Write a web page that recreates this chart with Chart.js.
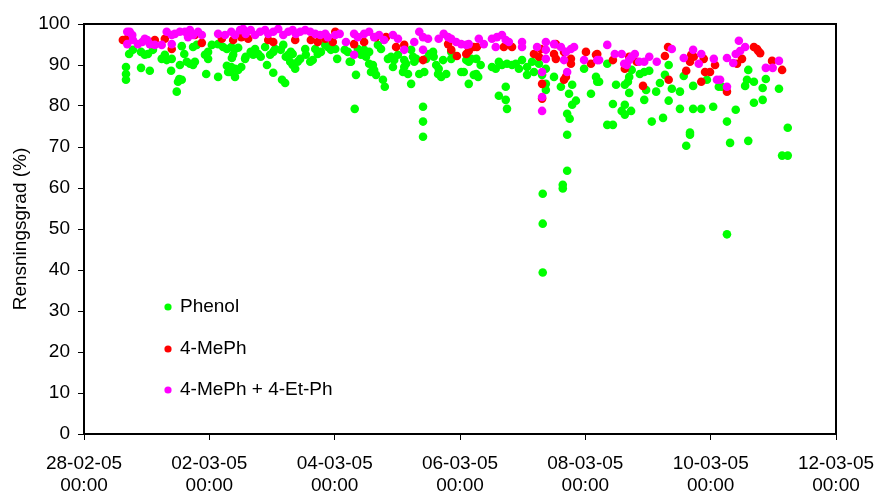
<!DOCTYPE html>
<html>
<head>
<meta charset="utf-8">
<script src="https://cdn.jsdelivr.net/npm/chart.js@4.4.0/dist/chart.umd.min.js"></script>
<style>
  body { margin: 0; background: #fff; }
  #wrap { width: 874px; height: 497px; }
</style>
</head>
<body>
<div id="wrap"><canvas id="chart" width="874" height="497"></canvas></div>
<script>
// x = days after 28-02-05 00:00, y = Rensningsgrad (%)
const tickDates = ["28-02-05", "02-03-05", "04-03-05", "06-03-05", "08-03-05", "10-03-05", "12-03-05"];
const tickTime = "00:00";
const seriesNames = ["Phenol", "4-MePh", "4-MePh + 4-Et-Ph"];
const seriesColors = ["#00ff00", "#ff0000", "#ff00ff"];

const phenol = [
  [0.67,89.5],[0.67,87.8],[0.67,86.4],[0.72,92.7],[0.78,93.7],[0.91,93.2],[0.97,92.5],[1.02,92.7],[0.91,89.3],[1.05,88.6],
  [1.10,93.7],[1.24,91.5],[1.29,92.5],[1.32,91.2],[1.40,91.5],[1.39,88.6],[1.53,90.0],[1.50,85.9],[1.56,86.4],[1.52,86.6],
  [1.48,83.5],[1.60,92.7],[1.56,94.6],[1.64,90.8],[1.69,90.3],[1.77,90.8],[1.74,90.0],[1.74,94.4],[1.80,94.9],[1.93,92.5],
  [1.98,93.2],[1.98,91.5],[1.95,87.8],[2.04,94.9],[2.14,87.1],[2.14,95.1],[2.22,94.4],[2.28,93.9],[2.28,89.8],[2.30,88.3],
  [2.35,94.4],[2.41,93.9],[2.46,94.2],[2.38,92.5],[2.36,91.7],[2.35,89.5],[2.33,88.3],[2.41,89.1],[2.46,88.8],[2.51,89.5],
  [2.41,87.1],[2.57,91.5],[2.58,92.0],[2.66,93.2],[2.73,93.9],[2.78,92.7],[2.70,92.5],[2.82,92.0],[2.89,94.4],[2.92,90.0],
  [2.97,92.5],[3.02,93.2],[3.05,93.9],[3.02,88.1],[3.14,93.7],[3.18,94.9],[3.22,92.0],[3.26,92.5],[3.30,93.2],[3.33,92.7],
  [3.16,86.4],[3.21,85.6],[3.29,90.8],[3.33,90.0],[3.37,89.1],[3.41,90.8],[3.45,91.5],[3.53,93.9],[3.54,92.5],[3.61,90.8],
  [3.65,91.2],[3.69,93.9],[3.73,92.7],[3.78,93.2],[3.85,94.9],[3.89,94.4],[3.94,93.7],[4.01,93.9],[4.04,91.5],[4.16,93.7],
  [4.21,93.2],[4.24,90.8],[4.26,90.8],[4.34,87.6],[4.32,79.3],[4.37,93.9],[4.42,92.5],[4.47,93.7],[4.55,93.2],[4.50,92.0],
  [4.55,90.3],[4.61,90.0],[4.58,88.3],[4.63,88.8],[4.66,87.6],[4.69,94.9],[4.74,93.9],[4.77,86.4],[4.80,84.7],[4.85,91.5],
  [4.90,92.0],[4.95,91.2],[5.01,92.5],[4.93,89.5],[5.09,88.3],[5.17,87.8],[5.11,91.2],[5.14,90.3],[5.11,89.5],[5.22,93.7],
  [5.25,92.0],[5.27,90.8],[5.30,91.5],[5.22,85.4],[5.35,87.8],[5.43,88.3],[5.41,79.8],[5.41,76.2],[5.41,72.5],[5.46,91.5],
  [5.51,92.7],[5.57,93.2],[5.58,92.0],[5.62,90.0],[5.66,89.1],[5.65,87.8],[5.70,87.1],[5.78,87.8],[5.73,91.2],[5.86,91.5],
  [5.86,93.2],[6.02,88.3],[6.06,88.3],[6.10,91.2],[6.14,90.8],[6.18,91.5],[6.14,85.4],[6.22,87.6],[6.26,91.5],[6.26,87.8],
  [6.29,87.1],[6.33,90.0],[6.51,89.5],[6.57,89.1],[6.62,90.8],[6.67,90.0],[6.75,90.3],[6.83,90.0],[6.89,90.3],[6.94,89.1],
  [6.99,91.2],[7.07,89.5],[7.15,90.8],[7.18,88.3],[7.07,87.6],[6.73,84.7],[6.62,82.5],[6.73,81.5],[6.75,79.3],[7.26,90.3],
  [7.37,89.1],[7.31,87.6],[7.37,83.9],[7.37,85.4],[7.50,87.1],[7.61,84.7],[7.79,85.2],[7.74,83.0],[7.85,81.3],[7.79,80.3],
  [7.71,78.1],[7.75,76.9],[7.71,73.0],[7.98,89.1],[8.09,83.0],[8.17,87.1],[8.19,85.9],[7.71,64.2],[7.64,60.8],[7.64,59.9],
  [7.32,58.6],[7.32,51.3],[7.32,39.4],[8.22,85.9],[8.35,90.3],[8.49,85.2],[8.44,80.5],[8.35,75.4],[8.44,75.4],[8.63,85.2],
  [8.68,85.9],[8.70,87.1],[8.70,83.2],[8.63,80.3],[8.58,78.8],[8.63,77.9],[8.73,78.8],[8.74,88.8],[8.87,87.8],[8.94,88.3],
  [9.02,88.6],[8.94,81.5],[8.97,83.9],[9.06,76.2],[9.13,83.5],[9.19,85.6],[9.24,77.1],[9.27,87.6],[9.33,90.0],[9.38,84.2],
  [9.33,81.3],[9.51,83.5],[9.51,79.3],[9.57,87.3],[9.61,70.3],[9.67,73.0],[9.67,73.5],[9.72,84.9],[9.72,79.3],[9.85,79.3],
  [10.04,79.8],[9.94,86.4],[10.13,84.7],[10.18,84.7],[10.60,88.8],[10.58,86.4],[10.69,85.9],[10.55,84.9],[10.83,84.4],[10.88,86.6],
  [11.09,84.2],[10.69,80.8],[10.83,81.5],[10.40,79.1],[10.26,76.2],[10.31,71.0],[10.60,71.5],[11.23,74.7],[11.14,67.9],[11.23,67.9],
  [10.26,48.7]
];

const mePh = [
  [0.62,96.1],[0.69,96.4],[1.13,96.1],[1.40,93.9],[1.88,95.4],[1.77,97.3],[1.29,96.4],[2.20,96.4],
  [2.38,96.1],[2.51,96.8],[2.62,96.4],[2.94,96.1],[3.02,95.6],[3.37,96.1],[3.62,96.1],[3.73,95.6],[3.85,96.4],[4.01,98.1],[3.97,95.6],
  [4.31,95.1],[4.47,95.6],[4.66,96.8],[4.82,96.8],[4.98,94.4],[5.11,94.9],[5.41,91.2],[5.86,93.7],[5.95,92.2],[6.10,92.7],
  [6.14,93.4],[6.22,94.4],[5.81,95.1],
  [6.27,94.4],[6.70,94.4],[6.83,94.4],[7.18,92.7],[7.29,93.9],[7.26,92.0],[7.53,95.1],[7.50,92.7],[7.53,91.5],[7.66,93.2],
  [7.77,91.5],[7.77,90.3],[7.31,85.4],[7.31,81.8],[7.66,86.4],[7.69,87.1],[8.01,93.2],[8.09,90.3],[8.17,92.5],
  [8.19,92.7],[8.44,91.2],[8.63,89.1],[8.70,92.0],[8.82,90.8],[8.92,84.9],[9.27,92.2],[9.32,94.4],[9.33,86.4],[9.61,88.6],
  [9.67,90.8],[9.69,92.5],[9.73,92.0],[9.89,91.5],[10.07,90.0],[9.91,88.3],[9.99,88.3],[9.85,85.9],
  [10.69,94.4],[10.76,93.4],[10.79,92.9],[10.74,93.9],[10.50,91.5],[10.42,90.3],[10.98,91.0],[11.14,88.8],[10.26,83.5]
];

const mePhEtPh = [
  [0.69,98.1],[0.73,98.1],[0.77,97.3],[0.69,95.1],[0.78,96.1],[0.86,95.1],[0.93,95.6],[1.01,96.1],[1.05,95.1],[1.13,94.9],
  [1.24,94.9],[1.32,98.1],[1.40,97.3],[1.45,97.6],[1.53,98.1],[1.61,98.1],[1.69,98.5],[1.74,97.3],[1.82,98.1],[1.88,97.3],
  [2.14,97.6],[2.25,97.3],[1.40,95.1],[0.97,96.4],[1.66,96.8],
  [2.35,98.1],[2.41,97.3],[2.49,98.5],[2.54,98.8],[2.58,97.6],[2.66,98.5],[2.73,97.3],[2.81,98.1],[2.89,98.5],[2.94,97.6],
  [3.02,98.1],[3.10,98.8],[3.18,97.3],[3.26,98.1],[3.33,98.5],[3.38,97.6],[3.45,98.1],[3.53,98.5],[3.61,98.1],[3.69,97.6],
  [3.77,97.3],[3.85,97.6],[3.89,96.8],[4.01,97.3],[4.08,97.6],[4.18,95.6],
  [4.31,97.6],[4.37,96.8],[4.47,97.6],[4.55,98.1],[4.63,96.8],[4.71,97.3],[4.79,96.1],[4.93,97.3],[5.01,96.4],[5.11,93.7],
  [5.27,95.6],[5.35,98.1],[5.41,96.8],[5.49,96.4],[5.41,93.7],[5.66,96.4],[5.74,97.6],[5.81,96.8],[5.86,96.4],[5.94,95.6],
  [6.02,95.1],[6.10,94.9],[6.14,95.1],[4.31,92.5],
  [6.30,96.4],[6.38,95.1],[6.51,96.4],[6.59,96.8],[6.67,97.3],[6.73,96.1],[6.78,95.6],[6.57,94.4],[6.99,95.6],[6.99,94.4],
  [7.23,94.4],[7.37,95.6],[7.37,93.7],[7.37,91.5],[7.50,95.1],[7.61,94.4],[7.69,93.2],[7.66,91.2],[7.77,93.9],[7.82,94.4],
  [7.31,88.3],[7.71,88.3],[7.31,82.2],[7.31,78.8],[7.98,91.2],[8.19,91.2],
  [8.35,94.9],[8.22,91.2],[8.47,92.7],[8.58,92.7],[8.62,90.3],[8.70,91.2],[8.74,92.0],[8.79,92.7],[8.66,90.0],[8.86,90.8],
  [8.94,90.8],[9.02,92.0],[9.14,90.8],[9.38,93.9],[9.57,91.7],[9.72,93.7],[9.81,90.3],[9.85,92.7],[10.05,91.5],[10.10,86.4],
  [10.45,95.9],[10.26,91.7],[10.40,92.7],[10.47,93.4],[10.55,94.4],[10.36,90.5],[10.88,89.3],[10.99,89.3],[11.09,91.0],[10.26,84.7],
  [10.15,86.4]
];

const fontFamily = '"Liberation Sans", Arial, sans-serif';

// ramme rundt plotteomraadet
const framePlugin = {
  id: "frame",
  afterDraw(chart) {
    const { ctx, chartArea: a } = chart;
    ctx.save();
    ctx.strokeStyle = "#000";
    ctx.lineWidth = 2;
    ctx.strokeRect(a.left, a.top, a.right - a.left, a.bottom - a.top);
    ctx.restore();
  }
};

// forklaring inde i plottet
const legendPlugin = {
  id: "insideLegend",
  afterDraw(chart) {
    const ctx = chart.ctx;
    const rows = [307, 349, 390];
    ctx.save();
    ctx.font = "19px " + fontFamily;
    ctx.textBaseline = "middle";
    ctx.textAlign = "left";
    seriesNames.forEach((name, i) => {
      ctx.fillStyle = seriesColors[i];
      ctx.beginPath();
      ctx.arc(168, rows[i], 3.6, 0, Math.PI * 2);
      ctx.fill();
      ctx.fillStyle = "#000";
      ctx.fillText(name, 180, rows[i]);
    });
    ctx.restore();
  }
};

const toPoints = arr => arr.map(p => ({ x: p[0], y: p[1] }));

new Chart(document.getElementById("chart"), {
  type: "scatter",
  data: {
    datasets: [
      { label: seriesNames[0], data: toPoints(phenol), backgroundColor: seriesColors[0], order: 3 },
      { label: seriesNames[1], data: toPoints(mePh), backgroundColor: seriesColors[1], order: 2 },
      { label: seriesNames[2], data: toPoints(mePhEtPh), backgroundColor: seriesColors[2], order: 1 }
    ]
  },
  options: {
    responsive: false,
    animation: false,
    events: [],
    layout: { padding: { top: 24, right: 38, left: 0, bottom: 0 } },
    elements: { point: { radius: 4.3, borderWidth: 0, pointStyle: "circle" } },
    plugins: { legend: { display: false }, tooltip: { enabled: false } },
    scales: {
      x: {
        type: "linear",
        min: 0,
        max: 12,
        afterFit(scale) {
          scale.height = 63;
          scale.paddingLeft = 0;
          scale.paddingRight = 0;
        },
        grid: { drawOnChartArea: false, tickLength: 6, color: "#000", lineWidth: 1 },
        border: { display: true, color: "#000", width: 2 },
        ticks: {
          stepSize: 2,
          padding: 13,
          color: "#000",
          maxRotation: 0,
          font: { family: fontFamily, size: 19, lineHeight: 1.15 },
          callback: v => [tickDates[v / 2], tickTime]
        }
      },
      y: {
        min: 0,
        max: 100,
        afterFit(scale) { scale.width = 84; },
        grid: { drawOnChartArea: false, tickLength: 6, color: "#000", lineWidth: 1 },
        border: { display: true, color: "#000", width: 2 },
        ticks: { stepSize: 10, padding: 8, color: "#000", font: { family: fontFamily, size: 19 } },
        title: {
          display: true,
          text: "Rensningsgrad (%)",
          color: "#000",
          font: { family: fontFamily, size: 19 },
          padding: { top: 9, bottom: 0 }
        }
      }
    }
  },
  plugins: [framePlugin, legendPlugin]
});
</script>
</body>
</html>
